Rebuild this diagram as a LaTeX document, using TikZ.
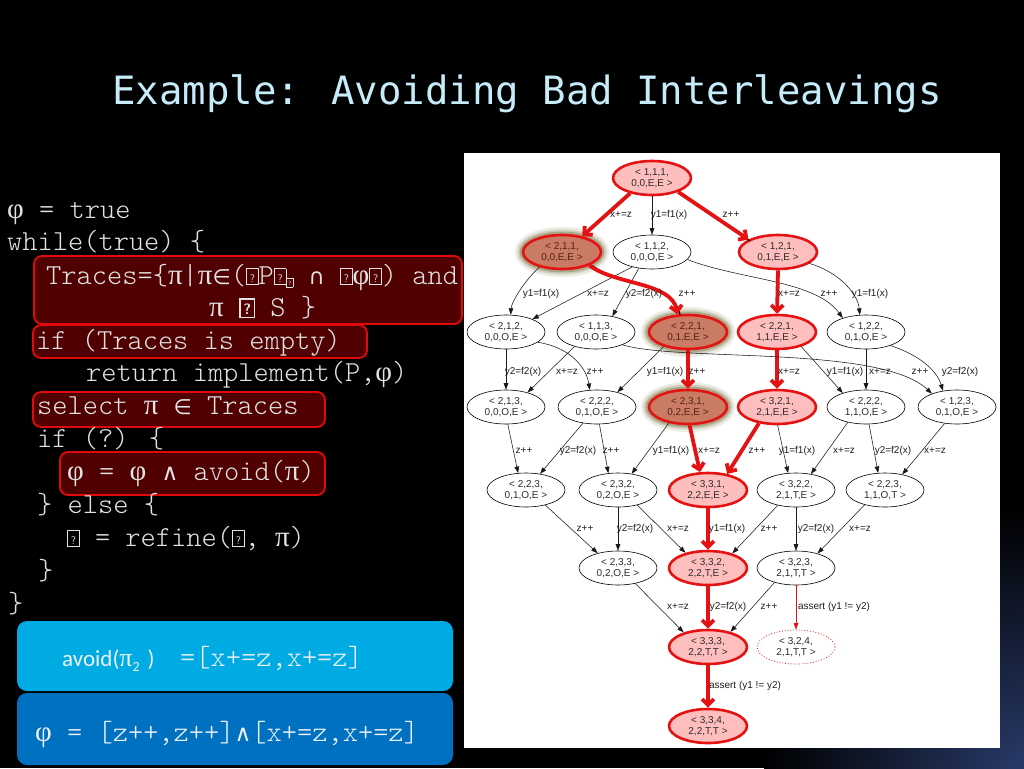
\documentclass[tikz,border=0pt]{standalone}
\usepackage{fontspec}
\setmainfont{Liberation Sans}
\newfontfamily\titlef{DejaVu Sans Mono}
\newfontfamily\grkf{Liberation Serif}
\newfontfamily\mathf{DejaVu Sans}
\newfontfamily\calf{Carlito}
\newfontfamily\codef{Latin Modern Mono Light}
\usetikzlibrary{arrows.meta,shapes.geometric}

\definecolor{redE}{RGB}{228,18,18}
\definecolor{pinkF}{RGB}{255,190,190}
\definecolor{brownF}{RGB}{201,123,99}
\definecolor{brownT}{RGB}{85,35,20}
\definecolor{glowC}{RGB}{105,95,40}
\definecolor{codeG}{RGB}{226,226,226}
\definecolor{boxR}{RGB}{80,0,0}
\definecolor{boxRB}{RGB}{225,10,10}
\definecolor{blueA}{RGB}{0,170,226}
\definecolor{blueB}{RGB}{0,112,192}
\definecolor{titleC}{RGB}{198,236,250}
\definecolor{bgB}{RGB}{40,58,105}
\definecolor{nodeT}{RGB}{45,45,45}
\definecolor{blueT}{RGB}{236,242,248}

\newcommand\gpi{{\grkf π}}
\newcommand\gphi{{\grkf φ}}
\newcommand\gin{{\mathf\fontsize{21}{21}\selectfont ∈}}
\newcommand\gcap{{\mathf\fontsize{22}{22}\selectfont ∩}}
\newcommand\gand{{\mathf\fontsize{23}{23}\selectfont ∧}}
\newcommand\tofuA{{\fboxsep=0pt\fboxrule=0.8pt\fbox{\makebox[11pt]{\rule{0pt}{15pt}\raisebox{2pt}{\sffamily\fontsize{11}{11}\selectfont ?}}}}}
\newcommand\tofuB{{\fboxsep=0pt\fboxrule=1.6pt\fbox{\makebox[13pt]{\rule{0pt}{17pt}\raisebox{2pt}{\sffamily\fontsize{15}{15}\selectfont\bfseries ?}}}}}
\newcommand\tofuS{\raisebox{-3pt}{\fboxsep=0pt\fboxrule=0.5pt\fbox{\makebox[6pt]{\rule{0pt}{9pt}\raisebox{1.5pt}{\sffamily\fontsize{6}{6}\selectfont ?}}}}}

\begin{document}
\begin{tikzpicture}[x=1pt,y=-1pt,
 gnode/.style={ellipse, minimum width=78pt, minimum height=34pt, inner sep=0pt, align=center, font=\fontsize{10}{11}\selectfont, text=nodeT},
 wnode/.style={gnode, draw=black, line width=0.6pt, fill=white},
 pnode/.style={gnode, draw=redE, line width=2.6pt, fill=pinkF},
 bnode/.style={gnode, draw=redE, line width=2.6pt, fill=brownF, text=brownT,
   preaction={draw=glowC, line width=16pt, draw opacity=0.12},
   preaction={draw=glowC, line width=11pt, draw opacity=0.2},
   preaction={draw=glowC, line width=7pt, draw opacity=0.35}},
 dnode/.style={gnode, draw=redE, line width=0.8pt, dotted, fill=white},
 bedge/.style={draw=black!90, line width=0.55pt, -{Triangle[length=6.5pt,width=4.6pt]}},
 redge/.style={draw=redE, line width=3.8pt, -{Straight Barb[length=6pt,width=12pt]}},
 rthin/.style={draw=redE, line width=0.7pt, -{Triangle[length=6.5pt,width=4.6pt]}},
 shadowline/.style={draw=black, line width=1.3pt},
 elab/.style={font=\fontsize{10}{12}\selectfont, inner sep=0pt, text=black!88},
 code/.style={font=\codef\fontsize{29}{34}\selectfont, text=codeG, inner sep=0pt, anchor=base west},
 rbox/.style={draw=boxRB, line width=1.8pt, fill=boxR, rounded corners=8pt},
]
\useasboundingbox (0,0) rectangle (1024,768);
\fill[black] (0,0) rectangle (1024,768);
\shade[inner color=bgB, outer color=black] (1024,768) circle[radius=260pt];

% title
\node[font=\titlef\fontsize{39}{44}\selectfont, text=titleC, inner sep=0pt, anchor=base] (title) at (527,104.5) {Example: Avoiding Bad Interleavings};

% code boxes
\draw[rbox] (34,256) rectangle (462,324);
\draw[rbox] (33,325) rectangle (367,358);
\draw[rbox] (33,392) rectangle (325,427);
\draw[rbox] (60,452) rectangle (325,495);

% code lines
\node[code] (c1) at (7,218) {\gphi{} = true};
\node[code] (c2) at (7,250.7) {while(true) \{};
\node[code] (c3) at (46,284) {Traces=\{\gpi|\gpi\gin(\tofuA P\tofuA\tofuS{} \gcap{} \tofuA\gphi\tofuA) and};
\node[code] (c4) at (209,316.7) {\gpi{} \tofuB{} S \}};
\node[code] (c5) at (36,349) {if (Traces is empty)};
\node[code] (c6) at (86,381.7) {return implement(P,\gphi)};
\node[code] (c7) at (37,414) {select \gpi{} \gin{} Traces};
\node[code] (c8) at (37,447) {if (?) \{};
\node[code] (c9) at (67,480.5) {\gphi{} = \gphi{} \gand{} avoid(\gpi)};
\node[code] (c10) at (37,513) {\} else \{};
\node[code] (c11) at (67,546) {\tofuA{} = refine(\tofuA, \gpi)};
\node[code] (c12) at (38,579) {\}};
\node[code] (c13) at (8,612) {\}};

% blue boxes
\fill[blueA, rounded corners=10pt] (17,621) rectangle (453,691);
\fill[blueB, rounded corners=10pt] (17,693) rectangle (453,765);
\node[inner sep=0pt, anchor=base west, text=blueT, font=\calf\fontsize{23}{26}\selectfont] (avA) at (62,666) {avoid({\fontsize{26}{26}\selectfont\gpi}\raisebox{-5pt}{\fontsize{14}{14}\selectfont 2}\hspace{8pt})};
\node[code, text=blueT] (avB) at (180,666) {=[x+=z,x+=z]};
\node[code, text=blueT] (phiB) at (35,741) {\gphi{} = [z++,z++]\gand[x+=z,x+=z]};

% graph panel
\fill[white] (464,153) rectangle (1000,748);

% nodes
\node[pnode] (n111) at (652,178) {< 1,1,1,\\0,0,E,E >};
\node[bnode] (n211) at (562,252) {< 2,1,1,\\0,0,E,E >};
\node[wnode] (n112) at (652,252) {< 1,1,2,\\0,0,O,E >};
\node[pnode] (n121) at (778,252) {< 1,2,1,\\0,1,E,E >};

\node[wnode] (n212) at (506,332) {< 2,1,2,\\0,0,O,E >};
\node[wnode] (n113) at (596,332) {< 1,1,3,\\0,0,O,E >};
\node[bnode] (n221a) at (688,332) {< 2,2,1,\\0,1,E,E >};
\node[pnode] (n221b) at (777,332) {< 2,2,1,\\1,1,E,E >};
\node[wnode] (n122) at (866,332) {< 1,2,2,\\0,1,O,E >};

\node[wnode] (n213) at (506,407) {< 2,1,3,\\0,0,O,E >};
\node[wnode] (n222a) at (597,407) {< 2,2,2,\\0,1,O,E >};
\node[bnode] (n231) at (688,407) {< 2,3,1,\\0,2,E,E >};
\node[pnode] (n321) at (777,407) {< 3,2,1,\\2,1,E,E >};
\node[wnode] (n222b) at (866,407) {< 2,2,2,\\1,1,O,E >};
\node[wnode] (n123) at (957,407) {< 1,2,3,\\0,1,O,E >};

\node[wnode] (n223a) at (526,490) {< 2,2,3,\\0,1,O,E >};
\node[wnode] (n232) at (618,490) {< 2,3,2,\\0,2,O,E >};
\node[pnode] (n331) at (708,490) {< 3,3,1,\\2,2,E,E >};
\node[wnode] (n322) at (796,490) {< 3,2,2,\\2,1,T,E >};
\node[wnode] (n223b) at (885,490) {< 2,2,3,\\1,1,O,T >};

\node[wnode] (n233) at (618,568) {< 2,3,3,\\0,2,O,E >};
\node[pnode] (n332) at (708,568) {< 3,3,2,\\2,2,T,E >};
\node[wnode] (n323) at (796,568) {< 3,2,3,\\2,1,T,T >};

\node[pnode] (n333) at (708,647) {< 3,3,3,\\2,2,T,T >};
\node[dnode] (n324) at (796,647) {< 3,2,4,\\2,1,T,T >};

\node[pnode] (n334) at (708,726) {< 3,3,4,\\2,2,T,T >};

% edges row 1 -> 2
\draw[redge] (n111.-145) -- (n211.38);
\draw[bedge] (n111.south) -- (n112.north);
\draw[shadowline] ([xshift=1.5pt,yshift=-1.5pt]n111.-28) -- ([xshift=1.5pt,yshift=-1.5pt]n121.157);
\draw[redge] (n111.-28) -- (n121.157);

% row 2 -> 3
\draw[bedge] (n211.-146) .. controls +(-12,10) and +(1,-14) .. (n212.75);
\draw[bedge] (n112.-143) -- (n212.26);
\draw[bedge] (n112.-129) -- (n113.44);
\draw[shadowline] ([xshift=2.5pt]n211.-26) .. controls (617.5,285) and (674.5,282) .. ([xshift=2.5pt]n221a.121);
\draw[redge] (n211.-26) .. controls (615,285) and (672,282) .. (n221a.121);
\draw[bedge] (n112.-12) .. controls (740,280) and (815,280) .. (n122.149);
\draw[redge] (n121.south) -- (n221b.north);
\draw[bedge] (n121.-20) .. controls +(28,8) and +(-2,-22) .. (n122.110);

% row 3 -> 4
\draw[bedge] (n212.south) -- (n213.north);
\draw[bedge] (n113.-146) -- (n213.34);
\draw[bedge] (n212.-18) .. controls +(28,4) and +(-4,-26) .. (n222a.113);
\draw[bedge] (n221a.-149) -- (n222a.36);
\draw[redge] (n221a.south) -- (n231.north);
\draw[redge] (n221b.south) -- (n321.north);
\draw[bedge] (n221b.-31) -- (n222b.149);
\draw[bedge] (n122.south) -- (n222b.north);
\draw[bedge] (n113.-26) .. controls (680,362) and (880,345) .. (n123.152);
\draw[bedge] (n122.-29) .. controls +(30,10) and +(-6,-20) .. (n123.131);

% row 4 -> 5
\draw[bedge] (n213.-84) -- (n223a.115);
\draw[bedge] (n222a.-131) -- (n223a.49);
\draw[bedge] (n222a.-82) -- (n232.120);
\draw[bedge] (n231.-140) -- (n232.50);
\draw[redge] (n231.-85) -- (n331.114);
\draw[redge] (n321.-138) -- (n331.40);
\draw[bedge] (n321.-88) -- (n322.115);
\draw[bedge] (n222b.-140) -- (n322.47);
\draw[bedge] (n222b.-80) -- (n223b.112);
\draw[bedge] (n123.-127) -- (n223b.42);

% row 5 -> 6
\draw[bedge] (n223a.-38) -- (n233.144);
\draw[bedge] (n232.south) -- (n233.north);
\draw[bedge] (n232.-38) -- (n332.146);
\draw[redge] (n331.south) -- (n332.north);
\draw[bedge] (n322.-140) -- (n332.31);
\draw[bedge] (n322.south) -- (n323.north);
\draw[bedge] (n223b.-144) -- (n323.34);

% row 6 -> 7 -> 8
\draw[bedge] (n233.-42) -- (n333.149);
\draw[redge] (n332.south) -- (n333.north);
\draw[bedge] (n323.-146) -- (n333.34);
\draw[rthin] (n323.south) -- (n324.north);
\draw[redge] (n333.south) -- (n334.north);

% edge labels
\node[elab] (l1) at (621,215) {x+=z};
\node[elab] (l2) at (669,215) {y1=f1(x)};
\node[elab] (l3) at (731,215) {z++};

\node[elab] (l4) at (541,294) {y1=f1(x)};
\node[elab] (l5) at (598,294) {x+=z};
\node[elab] (l6) at (644,294) {y2=f2(x)};
\node[elab] (l7) at (687,294) {z++};
\node[elab] (l8) at (789,294) {x+=z};
\node[elab] (l9) at (829,294) {z++};
\node[elab] (l10) at (870,294) {y1=f1(x)};

\node[elab] (l11) at (523,372) {y2=f2(x)};
\node[elab] (l12) at (567,372) {x+=z};
\node[elab] (l13) at (595,372) {z++};
\node[elab] (l14) at (665,372) {y1=f1(x)};
\node[elab] (l15) at (697,372) {z++};
\node[elab] (l16) at (789,372) {x+=z};
\node[elab] (l17) at (845,372) {y1=f1(x)};
\node[elab] (l18) at (880,372) {x+=z};
\node[elab] (l19) at (920,372) {z++};
\node[elab] (l20) at (960,372) {y2=f2(x)};

\node[elab] (l21) at (524,451) {z++};
\node[elab] (l22) at (578,451) {y2=f2(x)};
\node[elab] (l23) at (611,451) {z++};
\node[elab] (l24) at (671,451) {y1=f1(x)};
\node[elab] (l25) at (709,451) {x+=z};
\node[elab] (l26) at (757,451) {z++};
\node[elab] (l27) at (797,451) {y1=f1(x)};
\node[elab] (l28) at (844,451) {x+=z};
\node[elab] (l29) at (893,451) {y2=f2(x)};
\node[elab] (l30) at (935,451) {x+=z};

\node[elab] (l31) at (585,529) {z++};
\node[elab] (l32) at (635,529) {y2=f2(x)};
\node[elab] (l33) at (678,529) {x+=z};
\node[elab] (l34) at (727,529) {y1=f1(x)};
\node[elab] (l35) at (769,529) {z++};
\node[elab] (l36) at (816,529) {y2=f2(x)};
\node[elab] (l37) at (860,529) {x+=z};

\node[elab] (l38) at (678,607) {x+=z};
\node[elab] (l39) at (728,607) {y2=f2(x)};
\node[elab] (l40) at (769,607) {z++};
\node[elab] (l41) at (834,607) {assert (y1 != y2)};
\node[elab] (l42) at (745,686) {assert (y1 != y2)};
\end{tikzpicture}
\end{document}
